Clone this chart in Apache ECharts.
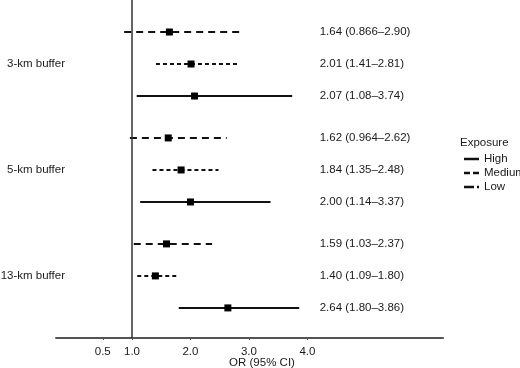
<!DOCTYPE html>
<html>
<head>
<meta charset="utf-8">
<script src="https://cdn.jsdelivr.net/npm/echarts@6/dist/echarts.min.js"></script>
<style>
  html, body { margin: 0; padding: 0; background: #fff; }
  #main { width: 520px; height: 368px; }
</style>
</head>
<body>
<div id="main"></div>
<script>
// buffer groups, top to bottom; inside each group rows go Low, Medium, High
var groups = ['3-km buffer', '5-km buffer', '13-km buffer'];
var levels = ['Low', 'Medium', 'High'];
var legendOrder = ['High', 'Medium', 'Low'];

// odds ratio and 95% CI per group
var orLow = [1.64, 1.62, 1.59];
var loLow = [0.866, 0.964, 1.03];
var hiLow = [2.90, 2.62, 2.37];

var orMedium = [2.01, 1.84, 1.40];
var loMedium = [1.41, 1.35, 1.09];
var hiMedium = [2.81, 2.48, 1.80];

var orHigh = [2.07, 2.00, 2.64];
var loHigh = [1.08, 1.14, 1.80];
var hiHigh = [3.74, 3.37, 3.86];

var xTicks = [0.5, 1.0, 2.0, 3.0, 4.0];

var GROUP_STEP = 3.31;   // row units taken by one group incl. the gap
var LABEL_X = 4.21;      // where the "OR (CI)" text starts, in axis units
var font = 'Liberation Sans, Arial, sans-serif';
var ink = '#1a1a1a';

var dashes = { Low: [7, 5], Medium: [4, 3], High: null };
var icons = {
    High: 'path://M0,0h15v2.5h-15z',
    Medium: 'path://M0,0h6v2.5h-6zM9,0h6v2.5h-6z',
    Low: 'path://M0,0h10v2.5h-10zM13,0h2v2.5h-2z'
};

function rowsFor(level, ors, los, his) {
    var idx = levels.indexOf(level);
    var out = [];
    for (var g = 0; g < groups.length; g++) {
        out.push([ors[g], los[g], his[g], g * GROUP_STEP + idx]);
    }
    return out;
}

function fmt(v) {
    return v.toPrecision(3);
}

function makeSeries(level, data) {
    return {
        name: level,
        type: 'custom',
        data: data,
        encode: { x: [0, 1, 2], y: 3 },
        itemStyle: { color: '#111' },
        silent: true,
        clip: false,
        renderItem: function (params, api) {
            var y = api.value(3);
            var or = api.value(0), lo = api.value(1), hi = api.value(2);
            var a = api.coord([lo, y]);
            var b = api.coord([hi, y]);
            var c = api.coord([or, y]);
            var t = api.coord([LABEL_X, y]);
            return {
                type: 'group',
                children: [
                    {
                        type: 'line',
                        shape: { x1: a[0], y1: a[1], x2: b[0], y2: b[1] },
                        style: { stroke: '#111', lineWidth: 2, lineDash: dashes[level], lineCap: 'butt' }
                    },
                    {
                        type: 'rect',
                        shape: { x: c[0] - 3.5, y: c[1] - 3.5, width: 7, height: 7 },
                        style: { fill: '#000' }
                    },
                    {
                        type: 'text',
                        x: t[0],
                        y: t[1],
                        style: {
                            text: fmt(or) + ' (' + fmt(lo) + '\u2013' + fmt(hi) + ')',
                            align: 'left',
                            verticalAlign: 'middle',
                            fill: ink,
                            font: '11.5px ' + font
                        }
                    }
                ]
            };
        }
    };
}

var groupCenters = groups.map(function (g, i) { return i * GROUP_STEP + 1; });

var dom = document.getElementById('main');
var myChart = echarts.init(dom, null, { renderer: 'canvas' });
var option = {
    animation: false,
    color: ['#111'],
    textStyle: { fontFamily: font, color: ink },
    title: {
        text: 'Exposure',
        left: 460,
        top: 137,
        padding: 0,
        textStyle: { fontSize: 11.5, fontWeight: 'normal', color: ink, fontFamily: font }
    },
    legend: {
        orient: 'vertical',
        left: 459,
        top: 148,
        itemWidth: 15,
        itemHeight: 8,
        itemGap: 2,
        selectedMode: false,
        textStyle: { fontSize: 11.5, color: ink, lineHeight: 12, fontFamily: font },
        data: legendOrder.map(function (n) { return { name: n, icon: icons[n] }; })
    },
    grid: {
        left: 56,
        right: 77,
        top: 0,
        bottom: 30,
        outerBoundsMode: 'none'
    },
    xAxis: {
        type: 'value',
        min: -0.3,
        max: 6.32,
        name: 'OR (95% CI)',
        nameLocation: 'middle',
        nameGap: 19,
        nameMoveOverlap: false,
        nameTextStyle: { fontSize: 11.5, color: ink, padding: [0, 0, 0, 25], fontFamily: font },
        axisLine: { onZero: false, lineStyle: { color: '#555', width: 2 } },
        axisTick: { show: true, customValues: xTicks, length: 2, lineStyle: { color: '#555' } },
        axisLabel: {
            customValues: xTicks,
            margin: 8,
            fontSize: 11.5,
            color: ink,
            formatter: function (v) { return v.toFixed(1); }
        },
        splitLine: { show: false }
    },
    yAxis: {
        type: 'value',
        inverse: true,
        min: -1,
        max: 9.56,
        axisLine: { show: false },
        axisTick: { show: false },
        splitLine: { show: false },
        axisLabel: {
            customValues: groupCenters,
            margin: -9,
            fontSize: 11.5,
            color: ink,
            formatter: function (v) {
                var i = Math.round((v - 1) / GROUP_STEP);
                return groups[i] || '';
            }
        }
    },
    series: [
        makeSeries('High', rowsFor('High', orHigh, loHigh, hiHigh)),
        makeSeries('Medium', rowsFor('Medium', orMedium, loMedium, hiMedium)),
        makeSeries('Low', rowsFor('Low', orLow, loLow, hiLow)),
        {
            name: 'ref',
            type: 'line',
            data: [],
            silent: true,
            markLine: {
                silent: true,
                symbol: 'none',
                label: { show: false },
                lineStyle: { color: '#333', width: 1.5, type: 'solid' },
                data: [{ xAxis: 1 }]
            }
        }
    ]
};
if (option && typeof option === "object") {
    myChart.setOption(option, true);
}
</script>
</body>
</html>
